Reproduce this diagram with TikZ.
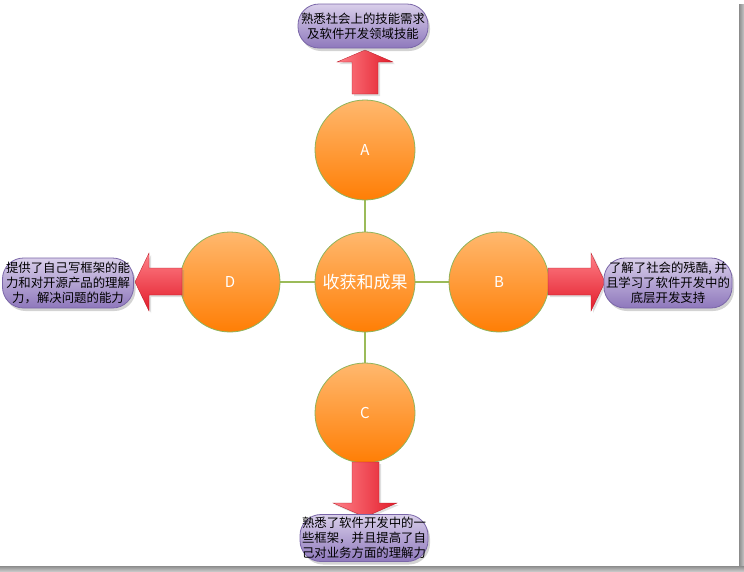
\documentclass[tikz,border=0pt]{standalone}
\usepackage{fontspec}
\newfontfamily\cjk{Noto Sans CJK SC}
\usetikzlibrary{shadows,backgrounds}
\definecolor{balltop}{HTML}{FFB86E}
\definecolor{ballbot}{HTML}{FF7E05}
\definecolor{ballline}{HTML}{8FB35A}
\definecolor{connline}{HTML}{9BBB59}
\definecolor{bubtop}{HTML}{D9CFEA}
\definecolor{bubmid}{HTML}{BBAAD8}
\definecolor{bubbot}{HTML}{8E78BC}
\definecolor{bubline}{HTML}{7A66A8}
\definecolor{arrlight}{HTML}{FF8088}
\definecolor{arrdark}{HTML}{E21C2A}
\tikzset{
  ball/.style={circle, minimum size=100pt, inner sep=0pt, draw=ballline, line width=0.8pt,
    top color=balltop, bottom color=ballbot, text=white, font=\cjk\fontsize{15}{18}\selectfont},
  conn/.style={draw=connline, line width=1.6pt},
  bubble/.style={draw=bubline, line width=0.8pt, rounded corners=21pt,
    top color=bubtop, middle color=bubmid, bottom color=bubbot, inner sep=0pt, align=center,
    font=\cjk\fontsize{12.4}{15}\selectfont, text=black,
    drop shadow={opacity=0.35, shadow xshift=2pt, shadow yshift=-3pt}},
  arrV/.style={left color=arrlight, right color=arrdark, draw=arrdark!80!black, line width=0.3pt,
    drop shadow={opacity=0.25, shadow xshift=2pt, shadow yshift=-2pt}},
  arrH/.style={top color=arrlight, bottom color=arrdark, draw=arrdark!80!black, line width=0.3pt,
    drop shadow={opacity=0.25, shadow xshift=2pt, shadow yshift=-2pt}}
}
\begin{document}
\begin{tikzpicture}[x=1pt,y=-1pt]
\useasboundingbox (0,0) rectangle (744,571);
% frame shadow
\shade[left color=gray!90, right color=gray!45] (739,4) rectangle (744,571);
\shade[top color=gray!90, bottom color=gray!45] (0,566) rectangle (744,571);

% circles
\node[ball, font=\cjk\fontsize{17}{20}\selectfont] (M) at (365,282) {收获和成果};
\node[ball] (A) at (365,150) {A};
\node[ball] (C) at (365,413) {C};
\node[ball] (D) at (230,282) {D};
\node[ball] (B) at (499,282) {B};
\begin{scope}[on background layer]
\draw[conn] (M) -- (A);
\draw[conn] (M) -- (B);
\draw[conn] (M) -- (C);
\draw[conn] (M) -- (D);
\end{scope}

% arrows
\shade[arrV] (352,94) -- (352,62) -- (337,62) -- (365,50) -- (393,62) -- (378,62) -- (378,94) -- cycle;
\shade[arrV] (352,462) -- (352,503) -- (333,503) -- (365,517) -- (397,503) -- (379,503) -- (379,462) -- cycle;
\shade[arrH] (182,268) -- (149,268) -- (149,253) -- (135,282) -- (149,311) -- (149,295) -- (182,295) -- cycle;
\shade[arrH] (548,268) -- (591,268) -- (591,253) -- (605,282) -- (591,311) -- (591,295) -- (548,295) -- cycle;

% bubbles
\node[bubble, minimum width=130pt, minimum height=44pt] (TA) at (363,26)
  {熟悉社会上的技能需求\\及软件开发领域技能};
\node[bubble, minimum width=131pt, minimum height=50pt] (TD) at (68,283)
  {提供了自己写框架的能\\力和对开源产品的理解\\力，解决问题的能力};
\node[bubble, minimum width=128pt, minimum height=50pt] (TB) at (668,283)
  {了解了社会的残酷, 并\\且学习了软件开发中的\\底层开发支持};
\node[bubble, minimum width=128pt, minimum height=47pt] (TC) at (364,538)
  {熟悉了软件开发中的一\\些框架，并且提高了自\\己对业务方面的理解力};
\end{tikzpicture}
\end{document}
